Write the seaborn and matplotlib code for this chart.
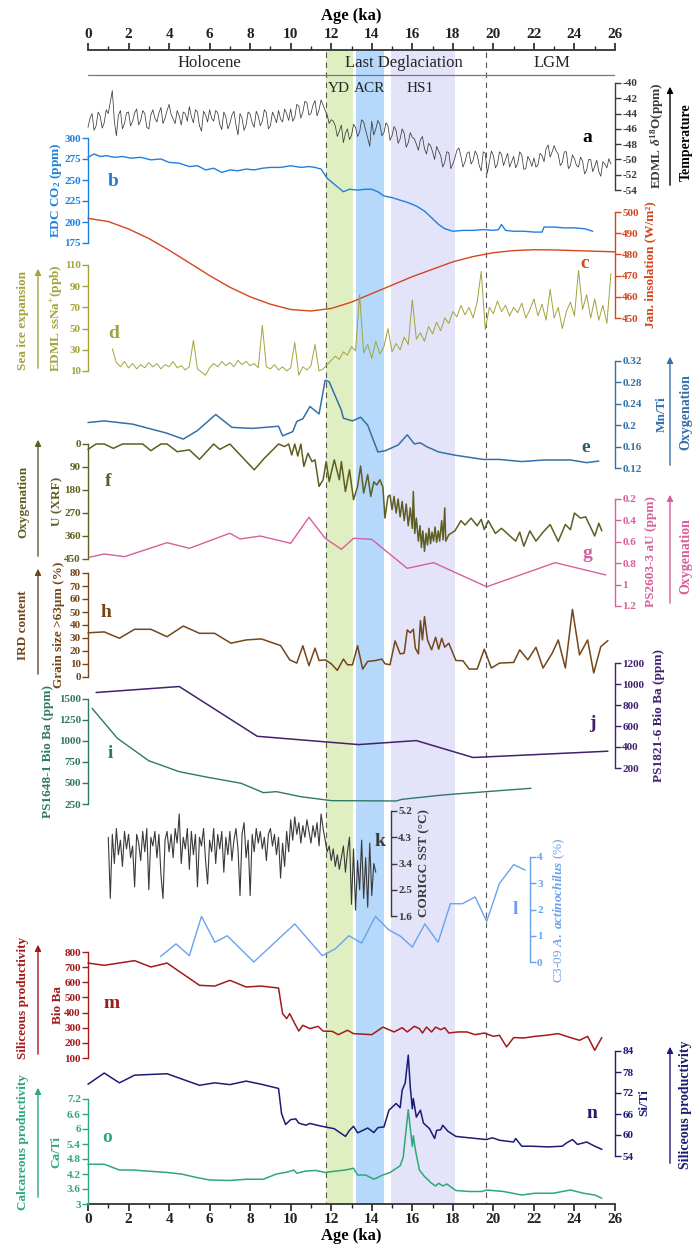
import numpy as np
import matplotlib
matplotlib.use("Agg")
import matplotlib.pyplot as plt
import seaborn as sns
from matplotlib.ticker import MultipleLocator, FuncFormatter
from matplotlib.patches import FancyArrowPatch

# ---------------------------------------------------------------- data
# (a) EDML d18O, 0.1 ka steps from 0 ka
D18O_A = [-45.8, -44.6, -44.0, -46.2, -45.6, -43.8, -44.3, -45.9, -45.2, -43.5, -44.0,
          -42.5, -41.0, -45.0, -46.9, -44.2, -43.6, -46.0, -45.3, -43.9, -43.8,
          -45.6, -45.0, -43.9, -43.4, -45.5, -44.9, -43.6, -44.0, -45.8, -46.0,
          -44.2, -43.5, -44.6, -45.1, -43.9, -43.2, -45.3, -44.6, -43.6, -42.8,
          -44.1, -44.7, -45.3, -43.6, -44.3, -45.5, -43.8, -44.0, -45.0, -43.1,
          -44.4, -45.2, -43.5, -43.8, -45.6, -46.3, -43.7, -44.2, -45.1, -43.5,
          -44.6, -45.0, -43.6, -43.9, -45.4, -46.1, -43.8, -44.4, -46.0, -45.3,
          -44.2, -43.7, -45.5, -46.8, -44.0, -44.6, -46.2, -45.5, -43.8, -44.1,
          -45.2, -45.8, -43.7, -44.3, -45.6, -45.0, -43.5, -43.9, -46.0, -45.6,
          -43.8, -44.4, -45.2, -43.6, -44.7, -45.1, -43.4, -44.0, -44.9, -43.4,
          -45.0, -44.5, -42.8, -43.0, -44.6, -43.8, -42.4, -42.6, -44.2, -44.0,
          -42.9, -42.3, -44.3, -43.5, -42.2, -42.9, -43.6, -44.2, -45.3, -44.8,
          -45.0, -45.6, -47.0, -46.3, -45.5, -47.8, -46.6, -46.0, -47.4, -46.9,
          -45.4, -45.8, -47.0, -46.4, -44.8, -45.1, -46.2, -47.2, -48.3, -45.0,
          -46.8, -46.0, -44.9, -45.4, -46.9, -46.5, -45.2, -45.6, -47.5, -46.9,
          -45.7, -46.2, -47.9, -47.3, -46.0, -46.6, -48.4, -47.8, -46.5, -47.1,
          -47.3, -48.0, -48.8, -47.4, -47.0, -48.6, -49.3, -47.9, -48.2, -49.0,
          -50.0, -48.3, -48.9, -49.5, -51.0, -50.4, -49.0, -49.1, -51.2, -50.6,
          -49.8, -48.8, -48.5, -49.6, -51.0, -50.3, -49.2, -49.0, -50.6, -50.1,
          -48.9, -49.4, -50.8, -51.5, -49.0, -49.2, -51.8, -50.4, -48.9, -49.5,
          -51.1, -50.6, -49.0, -49.3, -50.8, -50.0, -49.2, -51.0, -50.3, -49.6,
          -51.1, -50.5, -49.0, -49.4, -51.3, -51.2, -49.6, -50.1, -50.9, -49.8,
          -51.0, -50.7, -49.2, -49.5, -50.3, -48.6, -48.1, -49.7, -49.0, -48.2,
          -48.9, -49.3, -50.8, -50.4, -49.0, -49.0, -51.2, -50.8, -49.4, -49.9,
          -50.8, -51.0, -49.7, -50.2, -51.9, -51.4, -50.0, -50.0, -51.6, -50.9,
          -50.1, -51.6, -52.2, -50.3, -50.6, -51.1, -49.9, -50.6]
AGE_A = np.round(np.arange(len(D18O_A)) * 0.1, 1)

# (b) EDC CO2
AGE_B = [0.0, 0.3, 0.6, 0.9, 1.3, 1.7, 2.1, 2.6, 3.1, 3.6, 4.0, 4.5, 5.0, 5.4, 5.8, 6.2,
         6.6, 7.0, 7.4, 7.8, 8.2, 8.6, 9.0, 9.5, 10.0, 10.5, 10.9, 11.2, 11.5, 11.8, 12.1,
         12.4, 12.6, 12.9, 13.3, 13.7, 14.0, 14.3, 14.6, 15.0, 15.4, 15.8, 16.2, 16.6, 17.0,
         17.3, 17.6, 18.0, 18.5, 19.0, 19.5, 20.0, 20.25, 20.4, 20.6, 21.0, 21.5, 22.0,
         22.4, 22.5, 23.0, 23.5, 24.0, 24.5, 24.9]
CO2_B = [277, 281, 278, 279, 277, 278, 276, 277, 274, 275, 271, 270, 266, 267, 262, 264,
         259, 262, 261, 263, 262, 264, 265, 265, 267, 265, 266, 265, 263, 252, 246,
         240, 236, 239, 238, 239, 239, 236, 231, 229, 226, 223, 219, 213, 204,
         197, 192, 189, 190, 190, 191, 190, 191, 197, 190, 189, 189, 188,
         188, 194, 194, 193, 193, 192, 189]

# (c) January insolation
AGE_C = list(range(0, 27))
INSOL_C = [497, 495.5, 492, 487.5, 482, 476, 470, 464.5, 460, 456.5, 454, 453.3, 454.5,
           457.5, 461.5, 465.5, 469.5, 473, 476.5, 479, 480.8, 481.8, 482.2, 482.1,
           481.8, 481.5, 481.2]

# (d) EDML ssNa+, 0.2 ka steps from 1.2 to 25.8 ka
SSNA_D = [31, 18, 14, 19, 13, 17, 12, 16, 13, 18,
          14, 17, 12, 16, 14, 19, 13, 15, 11, 14,
          39, 12, 9, 6, 13, 17, 14, 19, 15, 18,
          14, 20, 16, 19, 15, 17, 13, 53, 14, 12,
          16, 11, 14, 10, 13, 37, 6, 14, 11, 15,
          35, 10, 12, 16, 20, 24, 21, 28, 25, 33,
          29, 82, 27, 35, 22, 38, 26, 33, 50, 28,
          36, 30, 42, 35, 77, 40, 46, 38, 52, 45,
          56, 48, 60, 55, 66, 61, 72, 63, 70, 60,
          75, 104, 49, 70, 64, 76, 66, 72, 62, 70,
          65, 74, 60, 68, 78, 62, 73, 58, 87, 60,
          70, 50, 66, 75, 62, 105, 68, 82, 60, 78,
          58, 72, 55, 102]
AGE_D = np.linspace(1.2, 25.8, len(SSNA_D))

# (e) Mn/Ti
AGE_E = [0.0, 0.8, 2.2, 3.9, 4.7, 5.4, 6.3, 7.1, 8.1, 9.4, 9.6, 10.1, 10.3, 10.6, 10.95,
         11.4, 11.7, 11.9, 12.5, 12.6, 13.05, 13.45, 13.8, 14.3, 14.65, 15.3, 15.75, 16.1,
         16.4, 16.7, 17.3, 18.1, 19.5, 20.3, 21.4, 22.5, 23.8, 24.6, 25.2]
MNTI_E = [0.205, 0.208, 0.202, 0.185, 0.174, 0.190, 0.220, 0.196, 0.194, 0.198, 0.180,
          0.188, 0.207, 0.212, 0.235, 0.221, 0.284, 0.281, 0.228, 0.213, 0.208, 0.215,
          0.200, 0.150, 0.152, 0.163, 0.182, 0.165, 0.167, 0.160, 0.150, 0.144, 0.136,
          0.136, 0.132, 0.135, 0.135, 0.130, 0.133]

# (f) U (XRF)
AGE_F = [0, 0.4, 0.8, 1.25, 1.7, 2.7, 3.1, 3.6, 3.9, 4.4, 5.0, 5.5, 6.2, 6.5, 7.0, 8.2,
         8.7, 9.4, 9.7, 9.9, 10.05, 10.2, 10.35, 10.5, 10.65, 10.85, 11.05, 11.2, 11.4,
         11.6, 11.75, 11.9, 12.15, 12.4, 12.5, 12.7, 12.9, 13.1, 13.3, 13.45, 13.6, 13.8,
         13.95, 14.1, 14.25, 14.4, 14.55, 14.65, 14.8, 14.9, 15.0, 15.1, 15.2, 15.3, 15.4,
         15.5, 15.6, 15.7, 15.8, 15.9, 16.0, 16.05, 16.12, 16.2, 16.3, 16.38, 16.45,
         16.52, 16.6, 16.68, 16.75, 16.82, 16.9, 16.97, 17.05, 17.12, 17.2, 17.28, 17.35,
         17.45, 17.52, 17.6, 17.65, 17.8, 18.1, 18.4, 18.6, 18.9, 19.2, 19.4, 19.55,
         19.75, 20.1, 20.4, 20.75, 21.1, 21.3, 21.5, 21.8, 22.1, 22.45, 22.8, 23.2,
         23.55, 23.8, 24.0, 24.3, 24.55, 25.0, 25.2, 25.35]
U_F = [21, 0, 0, 17, 0, 0, 26, 0, 0, 30, 23, 60, 0, 21, 0, 101,
       56, 0, 10, 0, 43, 0, 47, 0, 88, 36, 69, 62, 166,
       140, 69, 147, 62, 140, 69, 186, 101, 218, 166, 86, 192, 120,
       205, 148, 160, 140, 169, 290, 205, 200, 257, 205, 270, 215, 285,
       225, 300, 235, 320, 250, 330, 186, 350, 290, 380, 320, 405,
       340, 420, 350, 395, 330, 390, 345, 380, 325, 385, 340, 380,
       300, 375, 250, 380, 355, 340, 300, 317, 290, 320, 295, 335,
       300, 350, 330, 355, 380, 345, 400, 340, 380, 345, 315, 381,
       315, 335, 270, 290, 285, 360, 310, 340]

# (g) PS2603-3 authigenic U
AGE_G = [0.05, 0.8, 1.8, 3.9, 5.0, 7.0, 7.5, 8.5, 10.0, 10.9, 11.7, 12.5, 13.1, 14.0,
         15.75, 17.05, 19.67, 23.05, 25.55]
AU_G = [0.745, 0.714, 0.739, 0.608, 0.661, 0.520, 0.574, 0.546, 0.614, 0.371, 0.567,
        0.670, 0.567, 0.577, 0.848, 0.795, 1.020, 0.795, 0.910]

# (h) Grain size > 63 um
AGE_H = [0, 0.8, 1.55, 2.3, 3.1, 3.9, 4.7, 5.5, 6.25, 7.05, 7.8, 8.55, 9.5, 9.95, 10.3,
         10.6, 10.9, 11.2, 11.4, 11.7, 12.0, 12.3, 12.6, 12.8, 13.05, 13.3, 13.55, 13.8,
         14.2, 14.5, 14.65, 14.9, 15.15, 15.4, 15.6, 15.75, 15.9, 16.05, 16.15, 16.3,
         16.4, 16.5, 16.6, 16.75, 16.95, 17.15, 17.3, 17.45, 17.6, 17.8, 18.15, 18.5,
         18.8, 19.2, 19.55, 19.9, 20.3, 21.0, 21.3, 21.7, 22.1, 22.45, 22.9, 23.2, 23.55,
         23.9, 24.25, 24.65, 24.95, 25.3, 25.65]
GRAIN_H = [34, 34.7, 29.8, 36.7, 36.7, 31, 39.2, 33.6, 33.6, 26, 28.5, 29.3, 24.2, 13.2,
           10.7, 24, 8.7, 22.2, 12.7, 13.2, 10.2, 5.1, 13.8, 9.4, 9.4, 24, 6.1, 12,
           12.7, 13.8, 10.2, 9.4, 27.8, 17.8, 18.3, 36.2, 34, 36.7, 22.2, 17.8,
           43.3, 28.5, 46.4, 28.5, 20.9, 30.6, 21.4, 29.8, 22.9, 26, 12.7, 12.5,
           6.1, 6.1, 21.4, 6.9, 10.7, 11.2, 20.9, 13.2, 22.9, 6.9, 18.3, 28.5, 6.9,
           52, 17, 28.5, 3.1, 23.4, 28]

# (i) PS1648-1 biogenic Ba
AGE_I = [0.2, 1.45, 3.0, 4.5, 5.9, 7.55, 8.65, 9.3, 10.5, 12.0, 15.2, 15.5, 17.5,
         19.65, 21.85]
BA_I = [1389, 1032, 765, 635, 568, 497, 385, 397, 337, 290, 286, 306, 357, 397, 437]

# (j) PS1821-6 biogenic Ba
AGE_J = [0.4, 4.5, 8.35, 13.35, 16.2, 19.0, 25.65]
BA_J = [919, 976, 502, 423, 461, 300, 360]

# (k) CORIGC SST, 0.1 ka steps from 1.0 to 14.2 ka
SST_K = [4.3, 2.2, 4.4, 3.4, 4.6, 3.7, 4.2, 3.3, 4.5, 3.9,
         4.4, 3.6, 4.0, 2.6, 4.4, 4.1, 3.5, 4.5, 3.8, 4.6,
         2.5, 4.3, 4.0, 4.5, 3.6, 4.4, 3.0, 2.2, 4.2, 4.5,
         3.8, 4.4, 3.6, 4.6, 4.1, 5.1, 3.4, 4.3, 3.9, 4.6,
         3.2, 4.5, 3.7, 4.4, 2.6, 4.3, 4.0, 4.6, 3.5, 2.7,
         4.2, 3.8, 4.6, 3.4, 4.4, 3.9, 4.5, 3.1, 4.3, 3.7,
         4.5, 3.5, 4.2, 4.6, 3.9, 2.3, 4.4, 4.8, 3.6, 4.2,
         2.3, 4.4, 3.8, 4.6, 4.1, 4.5, 3.9, 4.3, 3.5, 4.4,
         4.6, 4.0, 4.4, 3.7, 4.3, 2.9, 4.1, 3.3, 4.5, 3.8,
         4.9, 4.2, 5.0, 4.4, 4.8, 4.1, 4.7, 4.3, 4.9, 4.5,
         4.1, 4.7, 4.3, 4.8, 4.0, 5.1, 4.6, 4.2, 3.8, 4.0,
         3.5, 3.9, 3.3, 3.7, 3.2, 3.6, 4.0, 3.1, 3.8, 4.3,
         2.0, 3.9, 1.8, 3.5, 2.5, 4.2, 2.2, 3.6, 1.9, 4.1,
         2.3, 3.4, 3.1]
AGE_K = np.linspace(1.0, 14.2, len(SST_K))

# (l) C3-09 A. actinochilus
AGE_L = [3.58, 4.34, 5.0, 5.6, 6.26, 6.87, 8.18, 10.2, 11.56, 12.2, 12.87, 13.5, 14.18,
         14.83, 15.42, 16.0, 16.62, 17.27, 17.88, 18.47, 19.1, 19.67, 20.3, 21.0, 21.57]
ACTI_L = [0.21, 0.69, 0.24, 1.74, 0.75, 1.0, 0.0, 1.45, 0.24, 0.5, 1.0, 0.72, 1.74,
          1.23, 0.98, 0.57, 1.45, 0.75, 2.22, 2.22, 2.48, 1.55, 2.99, 3.71, 3.5]

# (m) biogenic Ba
AGE_M = [0, 0.8, 2.3, 3.1, 3.9, 5.5, 6.25, 7.0, 7.8, 8.55, 9.4, 9.6, 9.8, 9.95, 10.2,
         10.4, 10.6, 10.95, 11.35, 11.6, 12.05, 12.35, 12.8, 13.1, 14.0, 14.55, 15.1,
         15.5, 15.75, 16.1, 16.35, 16.5, 16.7, 16.95, 17.15, 17.4, 17.6, 17.8, 18.25,
         18.7, 19.1, 19.55, 20.0, 20.3, 20.65, 21.0, 21.5, 22.05, 22.6, 23.2, 23.7,
         24.25, 24.65, 25.0, 25.35]
BA_M = [727, 712, 743, 701, 727, 580, 575, 613, 569, 575, 562, 393, 360, 393, 327,
        278, 316, 294, 309, 278, 276, 254, 283, 261, 254, 304, 272,
        300, 272, 309, 294, 265, 304, 272, 304, 287, 300, 265, 272,
        272, 254, 265, 243, 250, 173, 235, 232, 243, 250, 261, 239,
        217, 243, 151, 235]

# (n) Si/Ti
AGE_N = [0, 0.8, 1.55, 2.3, 3.9, 5.5, 6.25, 7.0, 7.8, 8.55, 9.4, 9.55, 9.75, 10.0,
         10.25, 10.4, 10.75, 10.95, 11.3, 11.7, 12.15, 12.5, 12.7, 12.9, 13.1, 13.3,
         13.55, 13.8, 14.1, 14.3, 14.6, 14.85, 15.2, 15.4, 15.5, 15.65, 15.8, 15.9,
         16.0, 16.05, 16.2, 16.4, 16.55, 16.85, 17.1, 17.2, 17.4, 17.5, 17.75, 18.15,
         18.8, 19.65, 19.95, 20.3, 21.0, 21.1, 21.4, 21.85, 22.7, 23.4, 23.6, 23.9,
         24.15, 24.6, 25.0, 25.35]
SITI_N = [74.5, 77.7, 74.9, 77.1, 77.5, 74.2, 74.9, 74.4, 75.4, 74.5, 73.3, 66.1, 63.0,
          64.4, 64.6, 63.4, 62.8, 63.3, 62.8, 62.3, 61.8, 60.4, 59.6, 61.3, 62.5, 60.6,
          61.3, 62.0, 60.7, 62.1, 62.3, 67.1, 69.0, 67.8, 72.8, 74.9, 82.8, 73.7,
          67.5, 70.4, 65.1, 67.1, 63.4, 61.8, 59.0, 61.3, 61.5, 62.8, 61.1, 59.6,
          59.2, 58.7, 59.2, 58.5, 58.0, 59.0, 56.8, 56.8, 56.6, 56.8, 57.7, 58.7,
          57.3, 58.0, 56.8, 55.9]

# (o) Ca/Ti
AGE_O = [0, 0.8, 1.55, 2.2, 3.9, 4.6, 5.3, 6.0, 7.0, 7.8, 8.65, 9.3, 9.85, 10.15, 10.3,
         10.75, 11.25, 11.7, 12.05, 12.7, 13.1, 13.3, 13.7, 14.1, 14.55, 14.9, 15.4,
         15.55, 15.8, 16.0, 16.05, 16.15, 16.35, 16.6, 16.95, 17.15, 17.3, 17.5, 17.7,
         18.15, 18.8, 19.45, 19.65, 20.5, 21.4, 22.05, 22.95, 23.8, 24.45, 25.0, 25.35]
CATI_O = [4.59, 4.59, 4.36, 4.36, 4.26, 4.2, 4.07, 3.96, 3.94, 3.99, 3.99, 4.2, 4.28,
          4.36, 4.23, 4.32, 4.34, 4.26, 4.3, 4.36, 4.43, 4.16, 4.16, 3.99, 4.16, 4.26,
          4.53, 4.87, 6.77, 5.3, 5.73, 5.17, 4.36, 4.1, 3.83, 3.72, 3.83, 3.72, 3.8,
          3.54, 3.5, 3.5, 3.56, 3.5, 3.36, 3.43, 3.43, 3.56, 3.43, 3.36, 3.23]

AGE_TICKS = list(range(0, 27, 2))

# ---------------------------------------------------------------- style
sns.set_theme(style="ticks")
plt.rcParams["font.family"] = ["Liberation Serif", "DejaVu Serif"]
plt.rcParams["font.weight"] = "bold"
plt.rcParams["axes.unicode_minus"] = False
plt.rcParams["mathtext.fontset"] = "custom"
plt.rcParams["mathtext.rm"] = "Liberation Serif:bold"
plt.rcParams["mathtext.bf"] = "Liberation Serif:bold"
plt.rcParams["mathtext.it"] = "Liberation Serif:italic"

W, H = 694, 1245
X0, X1 = 88, 615          # pixel columns of 0 ka and 26 ka
TOP, BOT = 50, 1204       # pixel rows of the top and bottom age axes

C_A = "#3a3a3a"; C_B = "#1f80dc"; C_C = "#d5461b"; C_D = "#a3a33c"; C_E = "#3470a8"
C_F = "#5e5e22"; C_G = "#d6609c"; C_H = "#74461a"; C_I = "#2f7868"; C_J = "#43206e"
C_K = "#3a3a3a"; C_L = "#6aa2ee"; C_M = "#a31a1a"; C_N = "#1c1c74"; C_O = "#2fa878"

TICK_SIZE = 8
LABEL_SIZE = 9.5

fig = plt.figure(figsize=(W / 100, H / 100), dpi=100)


def fx(x):
    return x / W


def fy(y):
    return 1 - y / H


def ftext(x, y, s, color="black", size=10, rot=0, weight="bold", **kw):
    fig.text(fx(x), fy(y), s, color=color, fontsize=size, rotation=rot,
             ha="center", va="center", fontweight=weight, **kw)


def arrow(x, y_from, y_to, color):
    fig.add_artist(FancyArrowPatch((fx(x), fy(y_from)), (fx(x), fy(y_to)),
                                   transform=fig.transFigure, arrowstyle="-|>",
                                   mutation_scale=9, color=color, lw=1.0))


# base axes: shared age axes, climate-period bands and divider lines
base = fig.add_axes([fx(X0), fy(BOT), (X1 - X0) / W, (BOT - TOP) / H])
base.set_xlim(0, 26)
base.set_ylim(BOT, TOP)
base.axvspan(11.75, 13.05, color="#e0efc2", lw=0, zorder=0)
base.axvspan(13.2, 14.6, color="#b6d8fa", lw=0, zorder=0)
base.axvspan(14.95, 18.1, color="#e3e3fa", lw=0, zorder=0)
base.vlines([11.73, 19.65], TOP + 2, BOT, colors="#555555", linestyles=(0, (5, 4)),
            lw=0.8, zorder=1)
base.plot([0, 26], [75, 75], color="#777777", lw=0.9, zorder=1)
for s in ("left", "right"):
    base.spines[s].set_visible(False)
for s in ("top", "bottom"):
    base.spines[s].set_color("#333333")
    base.spines[s].set_linewidth(1.3)
base.set_yticks([])
base.set_xticks(AGE_TICKS)
base.xaxis.set_minor_locator(MultipleLocator(1))
base.tick_params(axis="x", which="both", top=True, bottom=True, labeltop=True,
                 labelbottom=True, direction="out", colors="#222222", labelsize=11, pad=1.5)
base.tick_params(axis="x", which="major", length=5, width=1.2)
base.tick_params(axis="x", which="minor", length=3, width=1.0)
base.text(6.0, 63, "Holocene", ha="center", va="center", fontsize=12, fontweight="normal")
base.text(15.6, 63, "Last Deglaciation", ha="center", va="center", fontsize=12,
          fontweight="normal")
base.text(22.9, 63, "LGM", ha="center", va="center", fontsize=12, fontweight="normal")
base.text(12.4, 88, "YD", ha="center", va="center", fontsize=11, fontweight="normal")
base.text(13.9, 88, "ACR", ha="center", va="center", fontsize=11, fontweight="normal")
base.text(16.4, 88, "HS1", ha="center", va="center", fontsize=11, fontweight="normal")
ftext((X0 + X1) / 2, 16, "Age (ka)", size=12)
ftext((X0 + X1) / 2, 1236, "Age (ka)", size=12)

fmt = FuncFormatter(lambda v, p: f"{round(v, 3):g}")


def panel(top, bottom, ages, values, color, side, ticks, lw=1.0, inverted=False,
          spine_x=None):
    ax = fig.add_axes([fx(X0), fy(bottom), (X1 - X0) / W, (bottom - top) / H])
    sns.lineplot(x=ages, y=values, ax=ax, color=color, lw=lw, sort=False,
                 estimator=None)
    for ln in ax.lines:
        ln.set_clip_on(False)
    ax.set_xlim(0, 26)
    lo, hi = min(ticks), max(ticks)
    ax.set_ylim((hi, lo) if inverted else (lo, hi))
    for s in ax.spines.values():
        s.set_visible(False)
    sp = ax.spines[side]
    sp.set_visible(True)
    sp.set_color(color)
    sp.set_linewidth(1.0)
    if spine_x is not None:
        sp.set_position(("data", spine_x))
    sp.set_bounds(lo, hi)
    ax.yaxis.set_ticks_position(side)
    ax.set_yticks(ticks)
    ax.yaxis.set_major_formatter(fmt)
    ax.tick_params(axis="y", colors=color, labelcolor=color, direction="out",
                   length=4, width=1.0, labelsize=TICK_SIZE, pad=1.2)
    ax.set_xticks([])
    ax.set_xlabel("")
    ax.set_ylabel("")
    ax.grid(False)
    ax.patch.set_alpha(0)
    return ax


# (a) .. (o)
panel(83, 190, AGE_A, D18O_A, C_A, "right", list(range(-54, -39, 2)), lw=0.55)
panel(138, 243, AGE_B, CO2_B, C_B, "left", [175, 200, 225, 250, 275, 300], lw=1.0)
panel(212, 318, AGE_C, INSOL_C, C_C, "right", [450, 460, 470, 480, 490, 500], lw=1.0)
panel(265, 371, AGE_D, SSNA_D, C_D, "left", [10, 30, 50, 70, 90, 110], lw=0.7)
panel(361, 468, AGE_E, MNTI_E, C_E, "right", [0.12, 0.16, 0.2, 0.24, 0.28, 0.32], lw=1.1)
panel(444, 559, AGE_F, U_F, C_F, "left", [0, 90, 180, 270, 360, 450], lw=1.1,
      inverted=True)
panel(499, 606, AGE_G, AU_G, C_G, "right", [0.2, 0.4, 0.6, 0.8, 1.0, 1.2], lw=1.0,
      inverted=True)
panel(573, 677, AGE_H, GRAIN_H, C_H, "left", list(range(0, 81, 10)), lw=1.1)
panel(699, 804, AGE_I, BA_I, C_I, "left", [250, 500, 750, 1000, 1250, 1500], lw=1.0)
panel(663, 768, AGE_J, BA_J, C_J, "right", [200, 400, 600, 800, 1000, 1200], lw=1.1)
panel(811, 916, AGE_K, SST_K, C_K, "right", [1.6, 2.5, 3.4, 4.3, 5.2], lw=0.8,
      spine_x=14.95)
panel(857, 962, AGE_L, ACTI_L, C_L, "right", [0, 1, 2, 3, 4], lw=1.0, spine_x=21.8)
panel(952, 1058, AGE_M, BA_M, C_M, "left", list(range(100, 801, 100)), lw=1.1)
panel(1051, 1156, AGE_N, SITI_N, C_N, "right", [54, 60, 66, 72, 78, 84], lw=1.1)
panel(1099, 1204, AGE_O, CATI_O, C_O, "left", [3, 3.6, 4.2, 4.8, 5.4, 6, 6.6, 7.2], lw=1.1)

# axis titles
ftext(657, 136, r"EDML $\delta^{18}$O(ppm)", C_A, LABEL_SIZE, 90)
ftext(56, 190, r"EDC CO$_2$ (ppm)", C_B, LABEL_SIZE, 90)
ftext(650, 265, "Jan. insolation (W/m²)", C_C, LABEL_SIZE, 90)
ftext(57, 318, r"EDML ssNa$^{+}$(ppb)", C_D, LABEL_SIZE, 90)
ftext(662, 414, "Mn/Ti", C_E, LABEL_SIZE, 90)
ftext(57, 501, "U (XRF)", C_F, LABEL_SIZE, 90)
ftext(651, 552, "PS2603-3 aU (ppm)", C_G, LABEL_SIZE, 90)
ftext(59, 625, "Grain size >63µm (%)", C_H, LABEL_SIZE, 90)
ftext(48, 751, "PS1648-1 Bio Ba (ppm)", C_I, LABEL_SIZE, 90)
ftext(659, 715, "PS1821-6 Bio Ba (ppm)", C_J, LABEL_SIZE, 90)
ftext(424, 863, "CORIGC SST (°C)", C_K, LABEL_SIZE, 90)
ftext(559, 910, r"C3-09 $\mathit{A.\ actinochilus}$ (%)", C_L, LABEL_SIZE, 90,
      weight="normal")
ftext(58, 1005, "Bio Ba", C_M, LABEL_SIZE, 90)
ftext(644, 1103, "Si/Ti", C_N, LABEL_SIZE, 90)
ftext(56, 1152, "Ca/Ti", C_O, LABEL_SIZE, 90)

# direction arrows
arrow(38, 371, 266, C_D); ftext(23, 320, "Sea ice expansion", C_D, 9.5, 90)
arrow(38, 559, 437, C_F); ftext(23, 502, "Oxygenation", C_F, 9.5, 90)
arrow(38, 677, 566, C_H); ftext(23, 625, "IRD content", C_H, 9.5, 90)
arrow(38, 1057, 942, C_M); ftext(23, 998, "Siliceous productivity", C_M, 9.5, 90)
arrow(38, 1200, 1085, C_O); ftext(23, 1142, "Calcareous productivity", C_O, 9.5, 90)
arrow(670, 188, 84, "black"); ftext(686, 142, "Temperature", "black", 10, 90)
arrow(670, 468, 354, C_E); ftext(686, 412, "Oxygenation", C_E, 10, 90)
arrow(670, 606, 492, C_G); ftext(686, 556, "Oxygenation", C_G, 10, 90)
arrow(670, 1166, 1044, C_N); ftext(686, 1105, "Siliceous productivity", C_N, 10, 90)

# panel letters
for letter, x, y, c in [("a", 587, 138, "black"), ("b", 113, 182, C_B),
                        ("c", 585, 263, C_C), ("d", 114, 333, C_D),
                        ("e", 586, 447, "#2a5a6a"), ("f", 108, 482, C_F),
                        ("g", 587, 553, C_G), ("h", 106, 612, C_H),
                        ("i", 110, 753, C_I), ("j", 592, 723, C_J),
                        ("k", 380, 842, C_K), ("l", 515, 910, C_L),
                        ("m", 112, 1003, C_M), ("n", 592, 1113, C_N),
                        ("o", 107, 1137, C_O)]:
    ftext(x, y, letter, c, 14)

fig.savefig("out.png", dpi=100)
